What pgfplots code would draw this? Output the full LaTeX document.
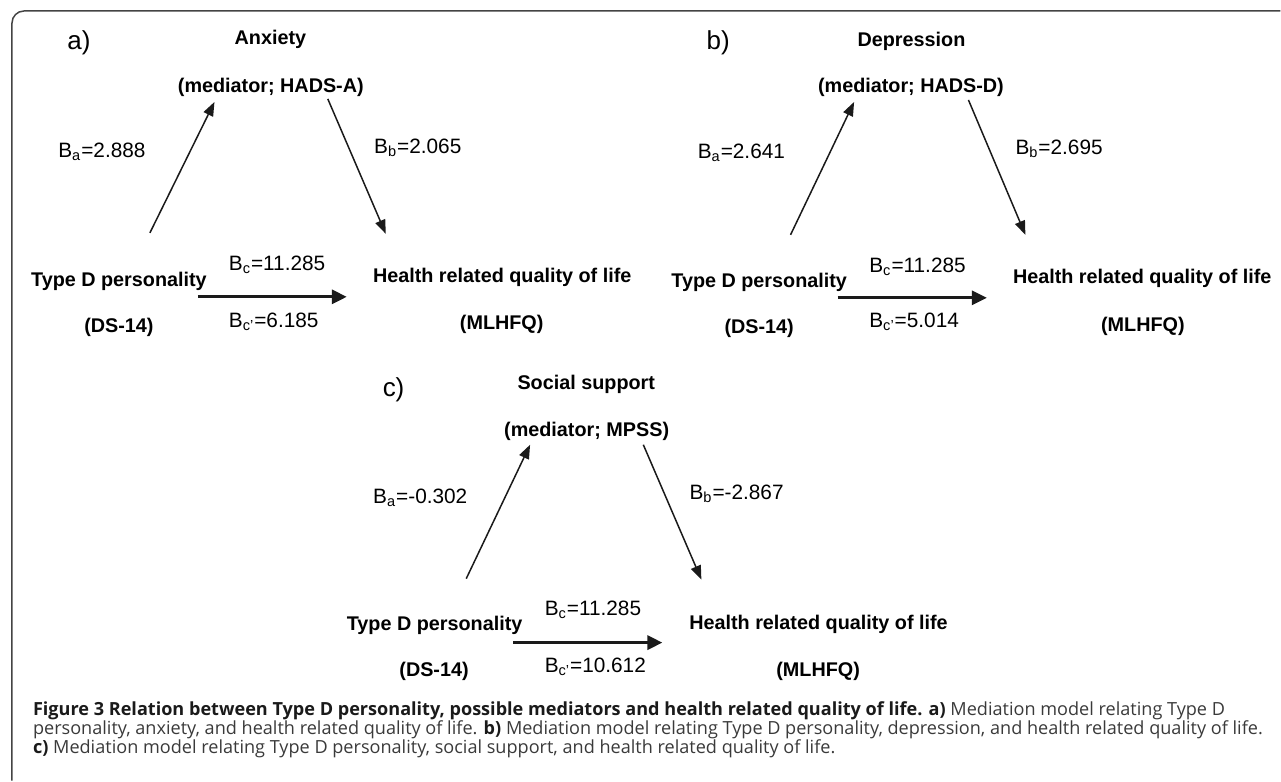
\documentclass[border=0pt]{standalone}
\usepackage{fontspec}
\setmainfont{Liberation Sans}
\newfontfamily\capfont{Open Sans}
\usepackage{pgfplots}
\pgfplotsset{compat=1.18}
\usetikzlibrary{arrows.meta}
\definecolor{ink}{HTML}{1A1A1A}
\definecolor{capgray}{HTML}{3A3A3A}
\definecolor{frame}{HTML}{444444}
\newcommand{\bl}{\fontsize{9.9}{11}\selectfont\bfseries}
\newcommand{\rl}{\fontsize{10.4}{12}\selectfont}
\newcommand{\pl}{\fontsize{13}{14}\selectfont}
\begin{document}
\begin{tikzpicture}
\begin{axis}[
  width=640.5pt, height=390.5pt, scale only axis,
  xmin=0, xmax=1281, ymin=0, ymax=781, y dir=reverse,
  hide axis, clip=false,
  every node/.style={inner sep=0pt, text=ink},
  thinarr/.style={ink, line width=0.75pt, -{Triangle[length=7pt,width=5.2pt]}},
  thickarr/.style={ink, line width=1.5pt, -{Triangle[length=7.5pt,width=7pt]}},
]
% invisible extent
\addplot[draw=none] coordinates {(0,0) (1281,781)};
% frame
\draw[frame, line width=0.75pt, rounded corners=6pt] (axis cs:1281,11) -- (axis cs:12,11) -- (axis cs:12,781);

% ---------- panel a ----------
\node[font=\pl] at (axis cs:79,43) {a)};
\node[font=\bl] at (axis cs:270.6,39) {Anxiety};
\node[font=\bl] at (axis cs:271,87) {(mediator; HADS-A)};
\addplot[thinarr] coordinates {(150,233) (214.6,102)};
\addplot[thinarr] coordinates {(328,99) (386,234)};
\node[font=\rl] at (axis cs:102,152) {B\textsubscript{a}=2.888};
\node[font=\rl] at (axis cs:418,148) {B\textsubscript{b}=2.065};
\node[font=\bl] at (axis cs:119,282) {Type D personality};
\node[font=\bl] at (axis cs:119,328) {(DS-14)};
\addplot[thickarr] coordinates {(198,297) (347,297)};
\node[font=\rl, anchor=west] at (axis cs:222,265) {B\textsubscript{c}=11.285};
\node[font=\rl, anchor=west] at (axis cs:222,322) {B\textsubscript{c'}=6.185};
\node[font=\bl] at (axis cs:502.5,278) {Health related quality of life};
\node[font=\bl] at (axis cs:502,325) {(MLHFQ)};

% ---------- panel b ----------
\node[font=\pl] at (axis cs:718.7,43) {b)};
\node[font=\bl] at (axis cs:912,41) {Depression};
\node[font=\bl] at (axis cs:911.5,87) {(mediator; HADS-D)};
\addplot[thinarr] coordinates {(791,235) (854.6,102)};
\addplot[thinarr] coordinates {(969,100) (1026,235)};
\node[font=\rl] at (axis cs:741.8,153) {B\textsubscript{a}=2.641};
\node[font=\rl] at (axis cs:1059.7,149) {B\textsubscript{b}=2.695};
\node[font=\bl] at (axis cs:759.6,283) {Type D personality};
\node[font=\bl] at (axis cs:759.6,329) {(DS-14)};
\addplot[thickarr] coordinates {(838,298) (987.5,298)};
\node[font=\rl, anchor=west] at (axis cs:862.8,267) {B\textsubscript{c}=11.285};
\node[font=\rl, anchor=west] at (axis cs:862.8,322) {B\textsubscript{c'}=5.014};
\node[font=\bl] at (axis cs:1142.9,279) {Health related quality of life};
\node[font=\bl] at (axis cs:1143.5,327) {(MLHFQ)};

% ---------- panel c ----------
\node[font=\pl] at (axis cs:393.8,390) {c)};
\node[font=\bl] at (axis cs:586.6,385) {Social support};
\node[font=\bl] at (axis cs:587,432) {(mediator; MPSS)};
\addplot[thinarr] coordinates {(466.5,579) (530.4,445)};
\addplot[thinarr] coordinates {(643.7,445) (701.8,580)};
\node[font=\rl] at (axis cs:420.5,498) {B\textsubscript{a}=-0.302};
\node[font=\rl] at (axis cs:737,494) {B\textsubscript{b}=-2.867};
\node[font=\bl] at (axis cs:434.9,626) {Type D personality};
\node[font=\bl] at (axis cs:434.3,672) {(DS-14)};
\addplot[thickarr] coordinates {(513.5,643) (662.8,643)};
\node[font=\rl, anchor=west] at (axis cs:538,610) {B\textsubscript{c}=11.285};
\node[font=\rl, anchor=west] at (axis cs:538,667) {B\textsubscript{c'}=10.612};
\node[font=\bl] at (axis cs:819,625) {Health related quality of life};
\node[font=\bl] at (axis cs:818.6,672) {(MLHFQ)};

% ---------- caption ----------
\node[anchor=base west, text=capgray, font=\capfont\fontsize{9.05}{10}\selectfont] at (axis cs:26,716)
  {\textcolor{ink}{\bfseries Figure 3 Relation between Type D personality, possible mediators and health related quality of life. a)} Mediation model relating Type D};
\node[anchor=base west, text=capgray, font=\capfont\fontsize{9.05}{10}\selectfont] at (axis cs:26,735)
  {personality, anxiety, and health related quality of life. \textcolor{ink}{\bfseries b)} Mediation model relating Type D personality, depression, and health related quality of life.};
\node[anchor=base west, text=capgray, font=\capfont\fontsize{9.05}{10}\selectfont] at (axis cs:26,754)
  {\textcolor{ink}{\bfseries c)} Mediation model relating Type D personality, social support, and health related quality of life.};
\end{axis}
\end{tikzpicture}
\end{document}
